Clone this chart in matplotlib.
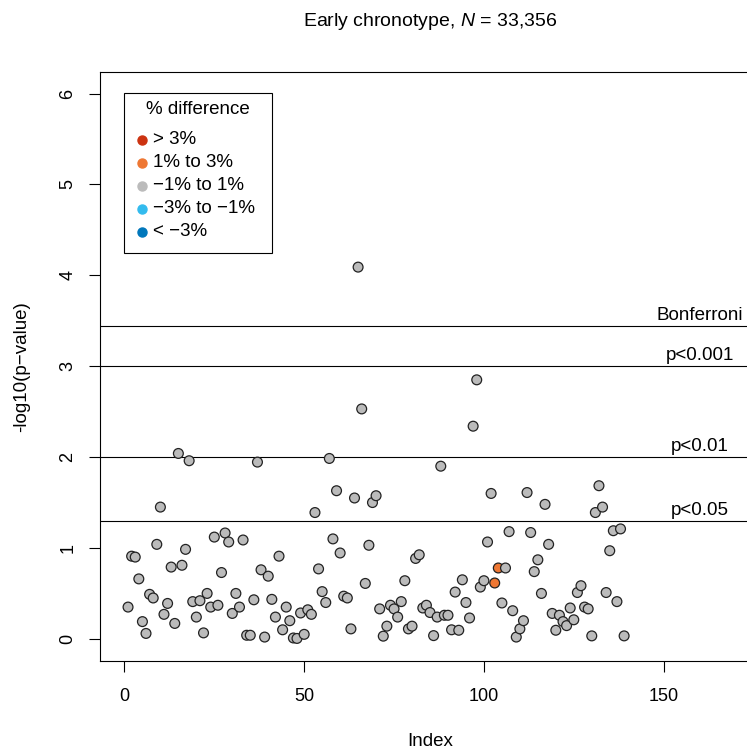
import matplotlib
matplotlib.use("Agg")
import matplotlib.pyplot as plt
from matplotlib.patches import Rectangle

plt.rcParams['font.family'] = ['Liberation Sans', 'DejaVu Sans']
plt.rcParams['mathtext.fontset'] = 'custom'
plt.rcParams['mathtext.rm'] = 'Liberation Sans'
plt.rcParams['mathtext.it'] = 'Liberation Sans:italic'

# -log10(p) per trait, index 1..139
neg_log_p = [
    0.35, 0.91, 0.90, 0.66, 0.19, 0.06, 0.49, 0.45, 1.04, 1.45,
    0.27, 0.39, 0.79, 0.17, 2.04, 0.81, 0.985, 1.96, 0.41, 0.24,
    0.42, 0.066, 0.50, 0.35, 1.12, 0.37, 0.73, 1.165, 1.066, 0.28,
    0.50, 0.35, 1.088, 0.04, 0.04, 0.43, 1.945, 0.76, 0.02, 0.69,
    0.435, 0.24, 0.91, 0.10, 0.35, 0.20, 0.01, 0.005, 0.285, 0.05,
    0.32, 0.27, 1.39, 0.77, 0.52, 0.40, 1.985, 1.10, 1.63, 0.945,
    0.47, 0.45, 0.11, 1.55, 4.09, 2.53, 0.61, 1.03, 1.50, 1.575,
    0.33, 0.03, 0.14, 0.37, 0.33, 0.24, 0.41, 0.64, 0.11, 0.14,
    0.885, 0.925, 0.34, 0.37, 0.29, 0.036, 0.24, 1.90, 0.26, 0.26,
    0.10, 0.515, 0.095, 0.65, 0.40, 0.23, 2.34, 2.85, 0.57, 0.64,
    1.066, 1.60, 0.615, 0.78, 0.395, 0.78, 1.18, 0.31, 0.02, 0.11,
    0.20, 1.61, 1.17, 0.74, 0.87, 0.50, 1.48, 1.04, 0.28, 0.095,
    0.26, 0.19, 0.146, 0.34, 0.21, 0.51, 0.585, 0.35, 0.33, 0.033,
    1.39, 1.685, 1.45, 0.51, 0.97, 1.19, 0.41, 1.21, 0.033,
]
# difference class per point (index, 1-based) -> only two are not in the -1..1% band
diff_class = ['mid'] * len(neg_log_p)
diff_class[102] = 'up'   # index 103
diff_class[103] = 'up'   # index 104

class_colors = {'high': '#CC3311', 'up': '#EE7733', 'mid': '#BBBBBB',
                'down': '#33BBEE', 'low': '#0077BB'}
legend_labels = ['> 3%', '1% to 3%', '\u22121% to 1%', '\u22123% to \u22121%', '< \u22123%']
legend_keys = ['high', 'up', 'mid', 'down', 'low']

thresholds = [3.444, 3.0, 2.0, 1.301]
threshold_labels = ['Bonferroni', 'p<0.001', 'p<0.01', 'p<0.05']

W, H = 747, 752
fig = plt.figure(figsize=(W / 100, H / 100), dpi=100)


def fx(x):
    return x / W


def fy(y):
    return 1 - y / H


ax = fig.add_axes([fx(100), fy(660.7), 660 / W, 589 / H])
ax.set_xlim(-6.8, 176.8)
ax.set_ylim(-0.24, 6.24)

idx = list(range(1, len(neg_log_p) + 1))
cols = [class_colors[c] for c in diff_class]
ax.scatter(idx, neg_log_p, s=50, c=cols, edgecolors='#222222', linewidths=0.9, zorder=3)

for t, lab in zip(thresholds, threshold_labels):
    ax.axhline(t, color='black', lw=0.8, zorder=2)
    ax.annotate(lab, (160, t), xytext=(0, 1.5), textcoords='offset points',
                ha='center', va='bottom', fontsize=13.5)

ax.set_xticks([0, 50, 100, 150])
ax.set_yticks(range(0, 7))
ax.tick_params(axis='both', length=8, width=0.8, labelsize=13)
ax.tick_params(axis='x', pad=12)
ax.tick_params(axis='y', pad=9, labelrotation=90)
for lbl in ax.get_yticklabels():
    lbl.set_va('center')
for sp in ax.spines.values():
    sp.set_linewidth(0.8)

ax.set_xlabel('Index', fontsize=13.5, va='center')
ax.xaxis.set_label_coords(0.5, (660.7 - 742) / 589)
ax.set_ylabel('-log10(p\u2212value)', fontsize=13.5, va='center')
ax.yaxis.set_label_coords((22 - 100) / 660, 0.5)

fig.text(fx(430), fy(21), r'Early chronotype, $N$ = 33,356',
         ha='center', va='center', fontsize=14)

# legend box, drawn by hand to match R's legend() layout
fig.add_artist(Rectangle((fx(124), fy(252.7)), (271.7 - 124) / W, (252.7 - 93.3) / H,
                         transform=fig.transFigure, fill=False, ec='black', lw=0.8))
fig.text(fx(197.9), fy(110), '% difference', ha='center', va='center', fontsize=13.5)
for i, (key, lab) in enumerate(zip(legend_keys, legend_labels)):
    yy = 140 + i * 22.9
    ax.plot([fx(141.7)], [fy(yy)], 'o', ms=6.5, color=class_colors[key],
            transform=fig.transFigure, clip_on=False)
    fig.text(fx(153.3), fy(yy), lab, ha='left', va='center', fontsize=13.5)

fig.savefig('out.png', dpi=100)
